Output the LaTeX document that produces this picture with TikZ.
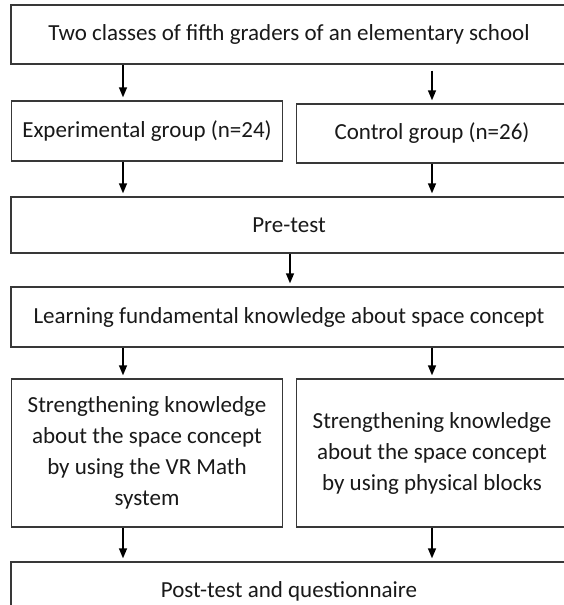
\documentclass[tikz,border=0pt]{standalone}
\usepackage{fontspec}
\setmainfont{Carlito}
\usetikzlibrary{arrows.meta, positioning, calc}
\tikzset{
    >={Triangle[width=8pt,length=10pt]},
    % Boxes
    box/.style={rectangle, draw=black!78, line width=1.4pt, fill=white,
                align=center, inner sep=2pt, text=black!90,
                font=\fontsize{23}{31}\selectfont},
    wide/.style={box, minimum width=556pt, minimum height=58pt},
    half/.style={box, minimum width=271pt},
    % Flow
    flow/.style={->, line width=1.5pt, black, shorten >=3pt}
}
\begin{document}
\begin{tikzpicture}[x=1pt, y=-1pt]
\useasboundingbox (0,0) rectangle (564,605);
\clip (0,0) rectangle (564,605);

\coordinate (lx) at (123,0);
\coordinate (rx) at (432,0);
\coordinate (mx) at (290,0);

\node[wide, minimum height=59pt] (cls) at (289,34.5) {Two classes of fifth graders of an elementary school};

\node[half, minimum height=60pt] (exp) at (147,131) {Experimental group (n=24)};
\node[half, minimum height=59pt] (ctrl) at (432,133.5) {Control group (n=26)};

\node[wide, minimum height=56pt] (pre) at (289,225) {Pre-test};
\node[wide, minimum height=60pt] (learn) at (289,317) {Learning fundamental knowledge about space concept};

\node[half, minimum height=148pt] (vr) at (147,453) {Strengthening knowledge\\about the space concept\\by using the VR Math\\system};
\node[half, minimum height=148pt] (blk) at (432,453) {Strengthening knowledge\\about the space concept\\by using physical blocks};

\node[wide, minimum height=58pt] (post) at (289,591) {Post-test and questionnaire};

\draw[flow] (cls.south -| lx) -- (exp.north -| lx);
\draw[flow, shorten <=6pt] (cls.south -| rx) -- (ctrl.north -| rx);
\draw[flow] (exp.south -| lx) -- (pre.north -| lx);
\draw[flow] (ctrl.south -| rx) -- (pre.north -| rx);
\draw[flow] (pre.south -| mx) -- (learn.north -| mx);
\draw[flow] (learn.south -| lx) -- (vr.north -| lx);
\draw[flow] (learn.south -| rx) -- (blk.north -| rx);
\draw[flow] (vr.south -| lx) -- (post.north -| lx);
\draw[flow] (blk.south -| rx) -- (post.north -| rx);

\end{tikzpicture}
\end{document}
